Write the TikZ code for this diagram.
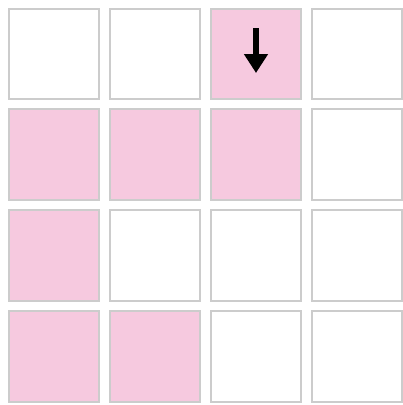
\documentclass[tikz,border=0pt]{standalone}
\usetikzlibrary{arrows.meta}
\definecolor{cellpink}{RGB}{246,201,223}
\definecolor{cellgray}{RGB}{204,204,204}
\begin{document}
\begin{tikzpicture}[x=1pt,y=-1pt,
  cell/.style={draw=cellgray,line width=1.6pt,fill=white,minimum size=90.5pt,inner sep=0pt,outer sep=0pt},
  pinkcell/.style={cell,fill=cellpink},
  moveArrow/.style={line width=6.5pt,-{Triangle[width=23pt,length=19pt]}}]
\useasboundingbox (0,0) rectangle (403,405);
% rows: 0..3, cols 0..3
\node[cell]     (c00) at (54,54) {};
\node[cell]     (c01) at (155,54) {};
\node[pinkcell] (c02) at (256,54) {};
\node[cell]     (c03) at (357,54) {};
\node[pinkcell] (c10) at (54,154.5) {};
\node[pinkcell] (c11) at (155,154.5) {};
\node[pinkcell] (c12) at (256,154.5) {};
\node[cell]     (c13) at (357,154.5) {};
\node[pinkcell] (c20) at (54,255.5) {};
\node[cell]     (c21) at (155,255.5) {};
\node[cell]     (c22) at (256,255.5) {};
\node[cell]     (c23) at (357,255.5) {};
\node[pinkcell] (c30) at (54,356.5) {};
\node[pinkcell] (c31) at (155,356.5) {};
\node[cell]     (c32) at (256,356.5) {};
\node[cell]     (c33) at (357,356.5) {};
\coordinate (arrS) at (256,28);
\coordinate (arrE) at (256,73);
\draw[moveArrow] (arrS) -- (arrE);
\end{tikzpicture}
\end{document}
